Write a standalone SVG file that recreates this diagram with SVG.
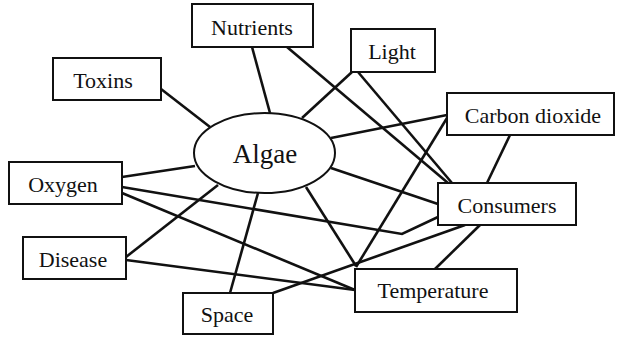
<svg xmlns="http://www.w3.org/2000/svg" width="617" height="338" viewBox="0 0 617 338">
<style>
.bg{fill:#fff}
.box{fill:#fff;stroke:#111;stroke-width:2}
.lbl{font-family:'Liberation Serif','Times New Roman',serif;font-size:22px;fill:#111;text-anchor:middle}
.big{font-size:27px}
.conn line,.conn polyline{stroke:#111;stroke-width:2.6;fill:none;stroke-linejoin:miter}
</style>
<rect class="bg" x="0" y="0" width="617" height="338"/>
<g id="connectors" class="conn">
<line x1="161" y1="89" x2="210" y2="127"/>
<line x1="252" y1="47" x2="270" y2="113"/>
<line x1="287" y1="47" x2="448" y2="183"/>
<line x1="352" y1="72" x2="302" y2="118"/>
<line x1="358" y1="72" x2="452" y2="183"/>
<line x1="331" y1="138" x2="447" y2="115"/>
<line x1="447" y1="118" x2="356" y2="267"/>
<line x1="510" y1="135" x2="487" y2="183"/>
<line x1="331" y1="168" x2="438" y2="204"/>
<line x1="306" y1="187" x2="356" y2="266"/>
<line x1="122" y1="177" x2="195" y2="166"/>
<polyline points="122,187 402,234 438,217"/>
<line x1="122" y1="193" x2="355" y2="290"/>
<line x1="126" y1="257" x2="218" y2="185"/>
<line x1="126" y1="260" x2="355" y2="290"/>
<line x1="230" y1="293" x2="258" y2="193"/>
<line x1="273" y1="293" x2="465" y2="225"/>
<line x1="480" y1="225" x2="435" y2="269"/>
</g>
<g id="algae">
<ellipse class="box" cx="264.5" cy="153" rx="70.5" ry="40"/>
<text class="lbl big" x="265" y="163">Algae</text>
</g>
<g id="nutrients">
<rect class="box" x="192" y="4" width="121" height="43"/>
<text class="lbl" x="252" y="35">Nutrients</text>
</g>
<g id="toxins">
<rect class="box" x="53" y="58" width="108" height="42"/>
<text class="lbl" x="103" y="88">Toxins</text>
</g>
<g id="light">
<rect class="box" x="351" y="29" width="84" height="43"/>
<text class="lbl" x="392" y="59">Light</text>
</g>
<g id="carbon-dioxide">
<rect class="box" x="447" y="93" width="167" height="42"/>
<text class="lbl" x="533" y="123">Carbon dioxide</text>
</g>
<g id="oxygen">
<rect class="box" x="9" y="162" width="113" height="42"/>
<text class="lbl" x="63" y="192">Oxygen</text>
</g>
<g id="disease">
<rect class="box" x="23" y="237" width="103" height="42"/>
<text class="lbl" x="73" y="267">Disease</text>
</g>
<g id="space">
<rect class="box" x="183" y="293" width="90" height="41"/>
<text class="lbl" x="227" y="322">Space</text>
</g>
<g id="consumers">
<rect class="box" x="438" y="183" width="138" height="42"/>
<text class="lbl" x="507" y="213">Consumers</text>
</g>
<g id="temperature">
<rect class="box" x="355" y="269" width="162" height="43"/>
<text class="lbl" x="433" y="298">Temperature</text>
</g>
</svg>
